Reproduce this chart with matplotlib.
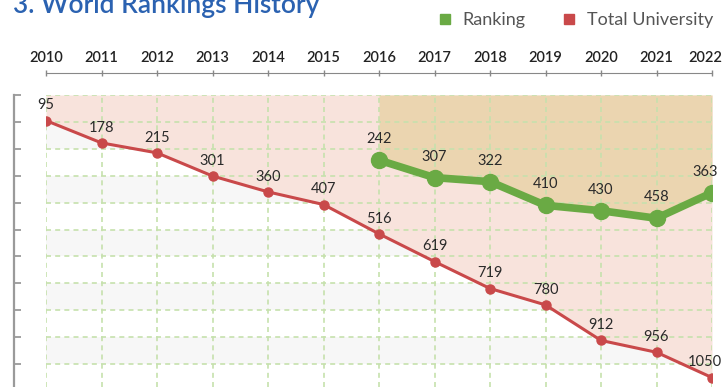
import matplotlib
matplotlib.use("Agg")
import matplotlib.pyplot as plt
from matplotlib.lines import Line2D

plt.rcParams['font.family'] = ['Lato', 'DejaVu Sans']

years = [2010, 2011, 2012, 2013, 2014, 2015, 2016, 2017, 2018, 2019, 2020, 2021, 2022]
total_university = [95, 178, 215, 301, 360, 407, 516, 619, 719, 780, 912, 956, 1050]
ranking_years = [2016, 2017, 2018, 2019, 2020, 2021, 2022]
ranking = [242, 307, 322, 410, 430, 458, 363]

red = '#c9494a'
green = '#6aaa44'

fig = plt.figure(figsize=(7.26, 3.87), dpi=100)
ax = fig.add_axes([46 / 726, 0.0, (712 - 46) / 726, 1 - 95 / 387])

ax.set_xlim(2010, 2022)
ax.set_ylim(1085, 0)

# striped background rows
for lo in range(100, 1100, 200):
    ax.axhspan(lo, lo + 100, color='#f7f7f7', zorder=0.3, lw=0)

# shaded areas above each series
ax.fill_between(years, 0, total_university, color='#f8e3dc', lw=0, zorder=0.8)
ax.fill_between(ranking_years, 0, ranking, color='#ebd5b0', lw=0, zorder=0.9)

ax.set_xticks(years)
ax.set_yticks(range(0, 1100, 100))
ax.grid(True, color='#c6e1ad', linestyle=(0, (3, 2.5)), linewidth=1.2)

ax.plot(years, total_university, color=red, lw=2.2, marker='o', ms=6.5, zorder=3)
ax.plot(ranking_years, ranking, color=green, lw=5.5, marker='o', ms=11.5,
        solid_joinstyle='round', zorder=4)

# value labels; the last one in each series is nudged left to stay in view
for i, (x, v) in enumerate(zip(years, total_university)):
    dx = -5 if i == len(years) - 1 else 0
    ax.annotate(str(v), (x, v), xytext=(dx, 6), textcoords='offset points',
                ha='center', va='bottom', fontsize=10.5, color='#2a2a2a',
                annotation_clip=False, zorder=5)
for i, (x, v) in enumerate(zip(ranking_years, ranking)):
    dx = -5 if i == len(ranking_years) - 1 else 0
    ax.annotate(str(v), (x, v), xytext=(dx, 10), textcoords='offset points',
                ha='center', va='bottom', fontsize=10.5, color='#2a2a2a',
                annotation_clip=False, zorder=5)

# axes: years on top (labels drawn by hand), bare tick ruler on the left
ax.xaxis.tick_top()
ax.tick_params(axis='x', direction='inout', length=5, width=1, color='#888888',
               labeltop=False)
for i, y in enumerate(years):
    dx = -5 if i == len(years) - 1 else 0
    ax.annotate(str(y), xy=(y, 1), xycoords=('data', 'axes fraction'),
                xytext=(dx, 21.5), textcoords='offset points', ha='center',
                va='bottom', fontsize=10.5, fontweight='semibold',
                color='#222222', annotation_clip=False)
ax.tick_params(axis='y', direction='in', length=5, width=1.3, color='#9a9a9a',
               labelleft=False)
ax.spines['top'].set_position(('outward', 16))
ax.spines['top'].set_color('#888888')
ax.spines['left'].set_position(('outward', 23))
ax.spines['left'].set_color('#9a9a9a')
ax.spines['left'].set_linewidth(1.6)
ax.spines['right'].set_visible(False)
ax.spines['bottom'].set_visible(False)

fig.text(13 / 726, 1 - 13 / 387, '3. World Rankings History', fontsize=19,
         fontweight='semibold', color='#2b62b1', va='baseline', ha='left')

handles = [Line2D([], [], ls='none', marker='s', ms=7, color=green),
           Line2D([], [], ls='none', marker='s', ms=7, color=red)]
fig.legend(handles, ['Ranking', 'Total University'], loc='center right',
           bbox_to_anchor=(1.0, 1 - 20 / 387), ncol=2, frameon=False,
           fontsize=13, handlelength=0.8, handletextpad=0.6, columnspacing=2.0,
           labelcolor='#555555', borderaxespad=0.3)

fig.savefig('out.png', dpi=100)
